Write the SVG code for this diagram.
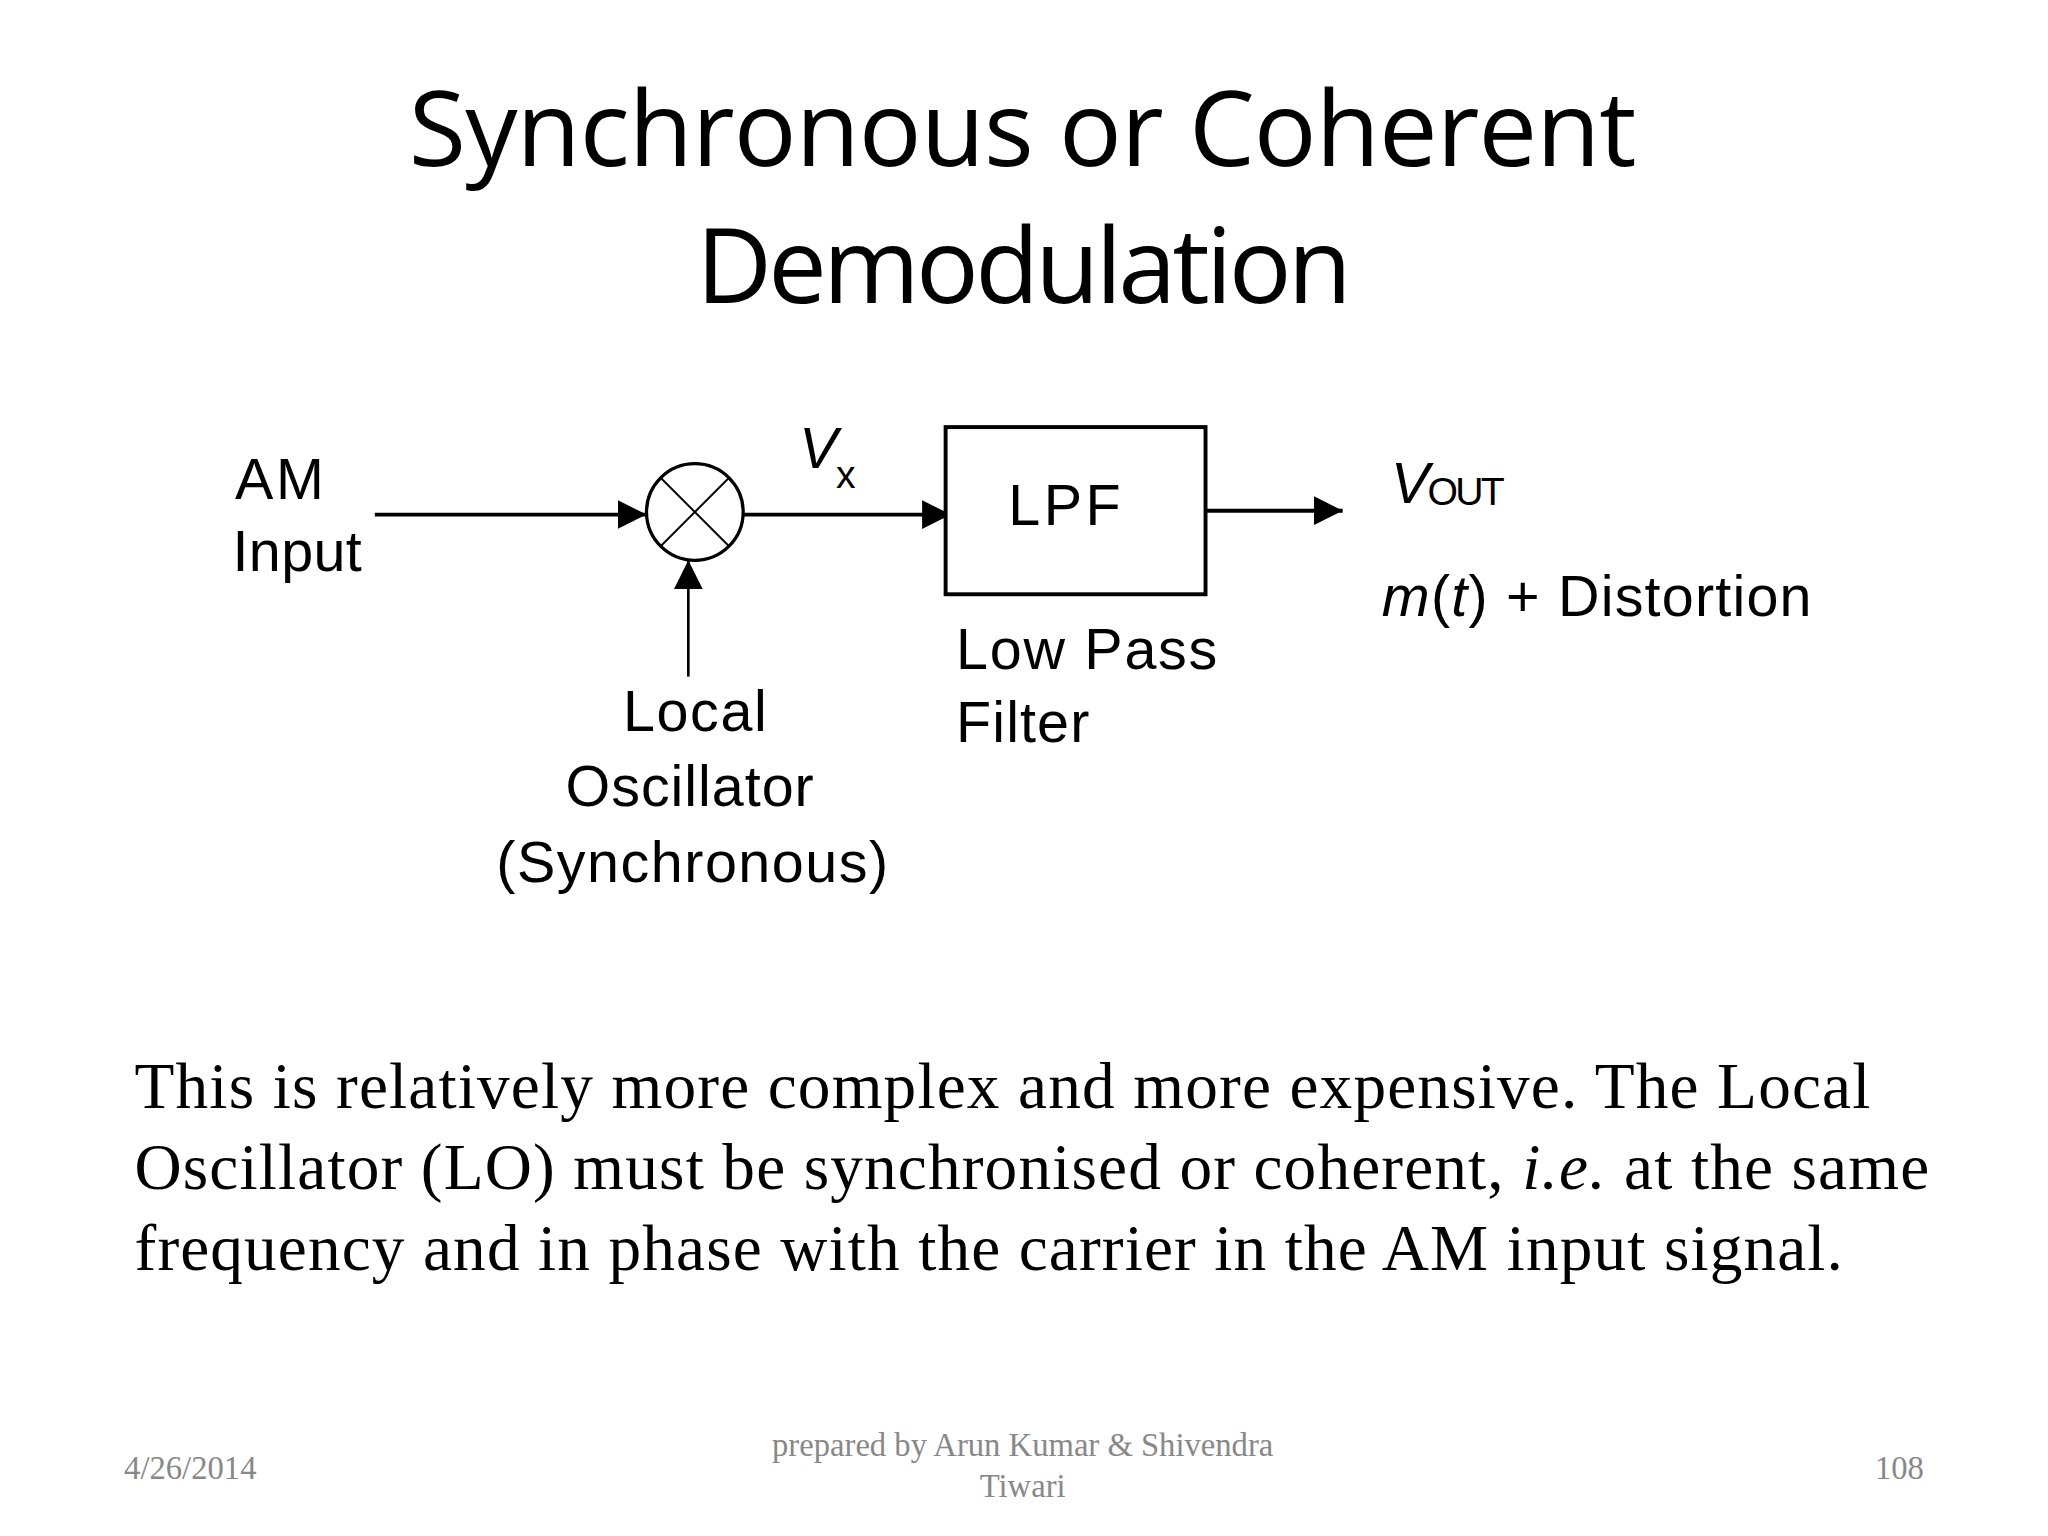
<svg xmlns="http://www.w3.org/2000/svg" width="2048" height="1536" viewBox="0 0 2048 1536">
<style>
.t{font-family:"Open Sans","Liberation Sans",sans-serif;fill:#000}
.d{font-family:"Liberation Sans",Arial,sans-serif;font-size:44px;fill:#000}
.s{font-family:"Liberation Sans",Arial,sans-serif;font-size:30px;fill:#000}
.b{font-family:"Liberation Serif","Times New Roman",serif;font-size:50px;fill:#000}
.f{font-family:"Liberation Serif","Times New Roman",serif;font-size:25px;fill:#888}
.ln{stroke:#000;stroke-width:3;fill:none}
</style>
<defs>
<marker id="a2" viewBox="0 0 10 10" refX="10" refY="5" markerWidth="22" markerHeight="22" orient="auto" markerUnits="userSpaceOnUse"><path d="M0,0L10,5L0,10z" fill="#000"/></marker></defs>
<rect width="2048" height="1536" fill="#fff"/>
<g transform="scale(1.3061)">
<g id="title">
<text class="t" x="783" y="127" font-size="80" text-anchor="middle" textLength="940">Synchronous or Coherent</text>
<text class="t" x="784" y="232" font-size="80" text-anchor="middle" textLength="502">Demodulation</text>
</g>
<g id="connectors">
<line class="ln" x1="287" y1="394" x2="495" y2="394" marker-end="url(#a2)"/>
<line class="ln" x1="569" y1="394" x2="728" y2="394" marker-end="url(#a2)"/>
<line class="ln" x1="923" y1="391" x2="1028" y2="391" marker-end="url(#a2)"/>
<line x1="527" y1="518" x2="527" y2="429" stroke="#000" stroke-width="2" marker-end="url(#a2)"/>
</g>
<g id="mixer">
<circle cx="532" cy="392" r="37" fill="#fff" stroke="#000" stroke-width="2.5"/>
<line x1="506" y1="366" x2="558" y2="418" stroke="#000" stroke-width="1.5"/>
<line x1="558" y1="366" x2="506" y2="418" stroke="#000" stroke-width="1.5"/>
</g>
<g id="lpf">
<rect x="724" y="327" width="199" height="128" fill="#fff" stroke="#000" stroke-width="3"/>
<text class="d" x="772" y="402" textLength="86">LPF</text>
</g>
<g id="labels">
<text class="d" x="612" y="358" font-style="italic">V</text>
<text class="s" x="640" y="374">x</text>
<text class="d" x="180" y="382" textLength="68">AM</text>
<text class="d" x="178" y="437" textLength="99">Input</text>
<text class="d" x="1065" y="385" font-style="italic">V</text>
<text class="s" x="1093" y="387" textLength="59">OUT</text>
<text class="d" x="1058" y="472" textLength="329"><tspan font-style="italic">m</tspan>(<tspan font-style="italic">t</tspan>) + Distortion</text>
<text class="d" x="477" y="560" textLength="110">Local</text>
<text class="d" x="433" y="617" textLength="190">Oscillator</text>
<text class="d" x="380" y="675" textLength="300">(Synchronous)</text>
<text class="d" x="732" y="512" textLength="200">Low Pass</text>
<text class="d" x="732" y="568" textLength="102">Filter</text>
</g>
<g id="body">
<text class="b" x="103" y="848" textLength="1329">This is relatively more complex and more expensive. The Local</text>
<text class="b" x="103" y="910" textLength="1374">Oscillator (LO) must be synchronised or coherent, <tspan font-style="italic">i.e.</tspan> at the same</text>
<text class="b" x="103" y="972" textLength="1308">frequency and in phase with the carrier in the AM input signal.</text>
</g>
<g id="footer">
<text class="f" x="95" y="1132">4/26/2014</text>
<text class="f" x="783" y="1115" text-anchor="middle">prepared by Arun Kumar &amp; Shivendra</text>
<text class="f" x="783" y="1146" text-anchor="middle">Tiwari</text>
<text class="f" x="1473" y="1132" text-anchor="end">108</text>
</g>
</g>
</svg>
